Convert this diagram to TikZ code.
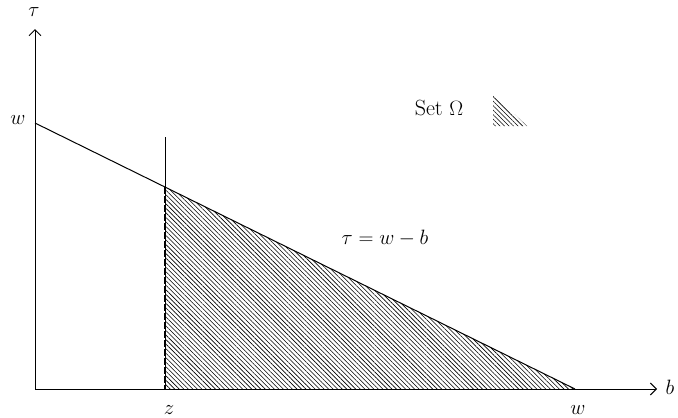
\documentclass[tikz,border=0pt]{standalone}
\usetikzlibrary{arrows.meta,patterns.meta}
\tikzset{
  axis/.style={-{Straight Barb[length=6pt,width=12pt]},line width=1pt},
  budget/.style={line width=1pt},
  cutline/.style={line width=1pt},
  edgedash/.style={line width=2pt,dash pattern=on 7pt off 2pt},
  hatch/.style={pattern={Lines[angle=-45,distance=3.2pt,line width=0.6pt]}},
  lbl/.style={font=\fontsize{20}{24}\selectfont,inner sep=0pt}
}
\begin{document}
\begin{tikzpicture}[x=1pt,y=-1pt]
    \useasboundingbox (0,0) rectangle (678,418);
    % axes
    \coordinate (O) at (35,389);
    \coordinate (tautip) at (35,29);
    \coordinate (btip) at (657,389);
    \coordinate (wtop) at (35,123);
    \coordinate (wright) at (575,389);
    \coordinate (ztop) at (165,137);
    \coordinate (zcut) at (165,187);
    \coordinate (zbase) at (165,389);

    % set Omega
    \fill[hatch] (zcut) -- (wright) -- (zbase) -- cycle;
    \draw[axis] (O) -- (tautip);
    \draw[axis] (O) -- (btip);
    \draw[budget] (wtop) -- (wright);
    \draw[cutline] (ztop) -- (zbase);
    \draw[edgedash] (zcut) -- (zbase);

    % labels
    \node[lbl] (taulbl) at (34,12) {$\tau$};
    \node[lbl] (blbl) at (670,387) {$b$};
    \node[lbl] (wleft) at (18,120) {$w$};
    \node[lbl] (zlbl) at (169,410) {$z$};
    \node[lbl] (wbase) at (578,410) {$w$};
    \node[lbl] (eqlbl) at (385,238) {$\tau = w - b$};

    % legend
    \node[lbl,font=\fontsize{22}{26}\selectfont] (legend) at (439,108) {Set $\Omega$};
    \coordinate (lgtop) at (493,94);
    \coordinate (lgright) at (527,126);
    \coordinate (lgleft) at (493,126);
    \fill[hatch] (lgtop) -- (lgright) -- (lgleft) -- cycle;
  \end{tikzpicture}
\end{document}
